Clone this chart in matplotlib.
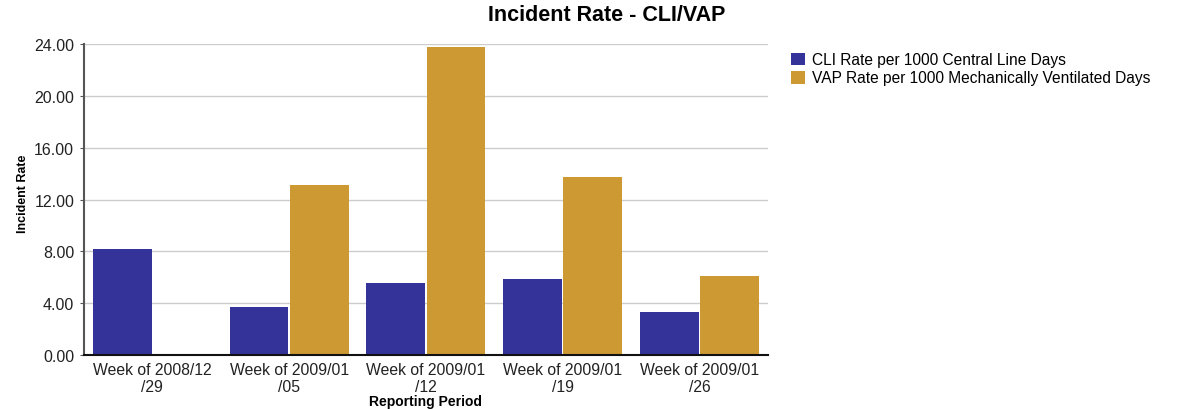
import numpy as np
import matplotlib.pyplot as plt

periods = ['Week of 2008/12\n/29', 'Week of 2009/01\n/05', 'Week of 2009/01\n/12',
           'Week of 2009/01\n/19', 'Week of 2009/01\n/26']
cli_rate = [8.18, 3.70, 5.55, 5.86, 3.32]
vap_rate = [0.05, 13.10, 23.77, 13.73, 6.10]
series_names = ['CLI Rate per 1000 Central Line Days',
                'VAP Rate per 1000 Mechanically Ventilated Days']
yticks = [0, 4, 8, 12, 16, 20, 24]

plt.rcParams['font.family'] = ['Liberation Sans', 'DejaVu Sans']

fig = plt.figure(figsize=(11.84, 4.10), dpi=100)
ax = fig.add_axes([0.0709, 0.1317, 0.5777, 0.7585])

ind = np.arange(len(periods))
width = 0.43
b1 = ax.bar(ind - 0.22, cli_rate, width, color='#333399')
b2 = ax.bar(ind + 0.22, vap_rate, width, color='#CC9933')

ax.set_xlim(-0.5, len(periods) - 0.5)
ax.set_ylim(0, 24)
ax.set_yticks(yticks, ['%.2f' % v for v in yticks], fontsize=11.5, color='#222222')
ax.set_xticks(ind, periods, fontsize=11.3, color='#222222', linespacing=1.2)
ax.tick_params(axis='x', length=0, pad=5)
ax.tick_params(axis='y', length=3, color='#555555', pad=4)
ax.yaxis.grid(True, color='#cccccc', linewidth=1)
ax.set_axisbelow(True)
for s in ['top', 'right']:
    ax.spines[s].set_visible(False)
ax.spines['left'].set_color('#555555')
ax.spines['left'].set_linewidth(1.5)
ax.spines['bottom'].set_color('#111111')
ax.spines['bottom'].set_linewidth(1.5)

ax.set_xlabel('Reporting Period', fontsize=10, fontweight='bold', labelpad=0)
ax.set_ylabel('Incident Rate', fontsize=9, fontweight='bold',
              family=['Liberation Sans Narrow', 'Liberation Sans', 'DejaVu Sans'])
ax.yaxis.set_label_coords(-0.081, 0.52)

fig.text(0.512, 0.962, 'Incident Rate - CLI/VAP', ha='center', va='center',
         fontsize=15.5, fontweight='bold')

fig.legend((b1[0], b2[0]), series_names, loc='upper left',
           bbox_to_anchor=(0.6625, 0.885), frameon=False, fontsize=11.2,
           handlelength=0.9, handleheight=0.9, handletextpad=0.45,
           labelspacing=0.2, borderaxespad=0)

fig.savefig('out.png', dpi=100)
